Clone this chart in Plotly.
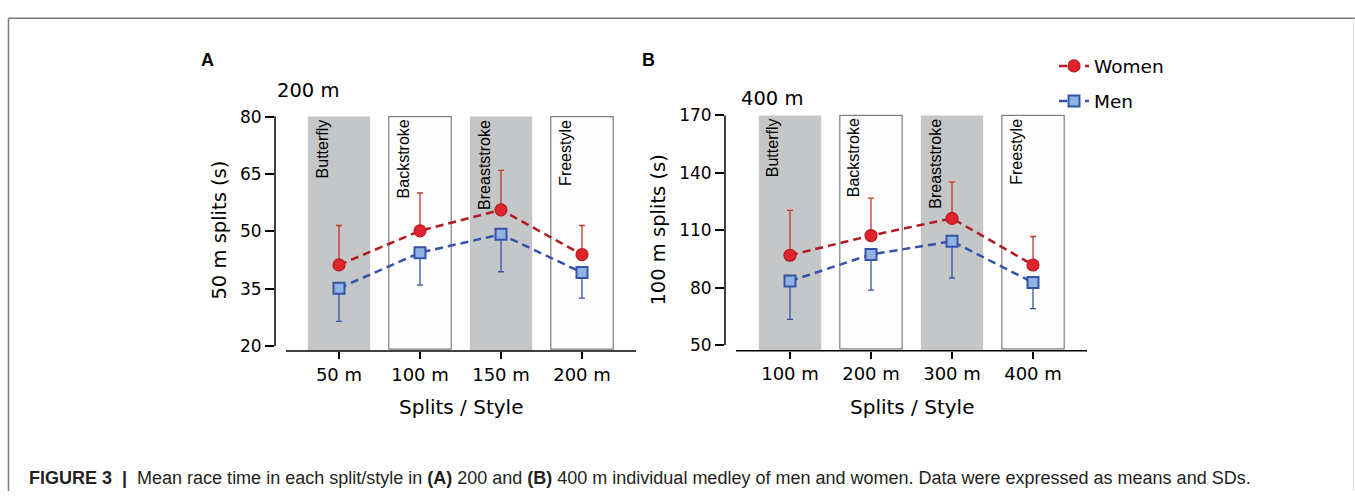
import plotly.graph_objects as go

W, H = 1355, 496

# ---------------- data ----------------
splits_a = ["50 m", "100 m", "150 m", "200 m"]
splits_b = ["100 m", "200 m", "300 m", "400 m"]
styles = ["Butterfly", "Backstroke", "Breaststroke", "Freestyle"]

women_a = [41.2, 50.1, 55.6, 43.9]
women_a_sd = [10.3, 9.9, 10.3, 7.6]
men_a = [35.1, 44.4, 49.2, 39.2]
men_a_sd = [8.7, 8.5, 9.8, 6.7]

women_b = [96.9, 107.2, 116.2, 91.8]
women_b_sd = [23.4, 19.6, 19.1, 14.9]
men_b = [83.4, 97.3, 104.2, 82.6]
men_b_sd = [20.0, 18.6, 19.2, 13.6]

yticks_a = [20, 35, 50, 65, 80]
yticks_b = [50, 80, 110, 140, 170]

# ---------------- styling ----------------
RED_FILL, RED_LINE, RED_ERR = "#e3232b", "#b01c22", "#c0392b"
BLUE_FILL, BLUE_LINE = "#8fb4e3", "#3453a9"
GRAY_BOX = "#c5c6c8"
CHART_FONT = "DejaVu Sans"
ARIAL = "Liberation Sans"

panels = [
    dict(xa="x", ya="y", cats=splits_a, w=women_a, wsd=women_a_sd, m=men_a, msd=men_a_sd,
         yt=yticks_a, axis_x=275, cat0=339, step=81, right=636,
         top_val=80, top_px=110.7, bot_val=20, bot_px=346.7, base_px=352, legend=True),
    dict(xa="x2", ya="y2", cats=splits_b, w=women_b, wsd=women_b_sd, m=men_b, msd=men_b_sd,
         yt=yticks_b, axis_x=725, cat0=790, step=81, right=1087,
         top_val=170, top_px=109.5, bot_val=50, bot_px=345.7, base_px=351.7, legend=False),
]

fig = go.Figure()
shapes = []
annotations = []
layout_axes = {}
HALF = 0.385

for k, p in enumerate(panels):
    ppu = (p["bot_px"] - p["top_px"]) / (p["top_val"] - p["bot_val"])
    pad = 1.5
    y_lo = p["bot_val"] - (p["base_px"] - p["bot_px"]) / ppu
    y_hi = p["top_val"] + pad / ppu
    x_lo = (p["axis_x"] - p["cat0"]) / p["step"]
    x_hi = (p["right"] - p["cat0"]) / p["step"]
    xkey = "xaxis" if k == 0 else "xaxis2"
    ykey = "yaxis" if k == 0 else "yaxis2"
    layout_axes[xkey] = dict(
        domain=[p["axis_x"] / W, p["right"] / W], anchor=p["ya"], type="category",
        range=[x_lo, x_hi], showgrid=False, zeroline=False, showline=False,
        ticks="outside", ticklen=7, tickwidth=1.5, tickcolor="black",
        tickfont=dict(family=CHART_FONT, size=18, color="black"),
    )
    layout_axes[ykey] = dict(
        domain=[1 - p["base_px"] / H, 1 - (p["top_px"] - pad) / H], anchor=p["xa"],
        range=[y_lo, y_hi], showgrid=False, zeroline=False, showline=False,
        tickvals=p["yt"], ticks="outside", ticklen=9, tickwidth=1.5, tickcolor="black",
        tickfont=dict(family=CHART_FONT, size=17, color="black"),
    )

    # style boxes
    for i, s in enumerate(styles):
        gray = i % 2 == 0
        if gray:
            shapes.append(dict(type="rect", xref=p["xa"], yref=p["ya"], x0=i - HALF, x1=i + HALF,
                               y0=y_lo, y1=p["top_val"], fillcolor=GRAY_BOX,
                               line=dict(width=0), layer="below"))
        else:
            shapes.append(dict(type="rect", xref=p["xa"], yref=p["ya"], x0=i - HALF, x1=i + HALF,
                               y0=y_lo + 2 / ppu, y1=p["top_val"], fillcolor="#fdfdfd",
                               line=dict(width=1.2, color="#7f7f7f"), layer="below"))
        annotations.append(dict(xref=p["xa"], yref=p["ya"], x=i - HALF, y=p["top_val"],
                                text=s, showarrow=False, textangle=-90,
                                xanchor="left", yanchor="top", xshift=4, yshift=-1,
                                font=dict(family=ARIAL, size=16, color="black")))

    # y axis line (from lowest to highest tick) and x baseline
    shapes.append(dict(type="line", xref=p["xa"] + " domain", yref=p["ya"], x0=0, x1=0,
                       y0=p["bot_val"], y1=p["top_val"], line=dict(color="black", width=1.5)))
    shapes.append(dict(type="line", xref=p["xa"], yref=p["ya"] + " domain",
                       x0=(p["axis_x"] + 11 - p["cat0"]) / p["step"], x1=x_hi, y0=0, y1=0,
                       line=dict(color="black", width=1.5)))

    fig.add_trace(go.Scatter(
        x=p["cats"], y=p["w"], xaxis=p["xa"], yaxis=p["ya"], name="Women",
        legendgroup="women", showlegend=p["legend"], mode="lines+markers",
        line=dict(color=RED_LINE, width=2.5, dash="8px,5px"),
        marker=dict(symbol="circle", size=12, color=RED_FILL, line=dict(color=RED_LINE, width=1.2)),
        error_y=dict(type="data", symmetric=False, array=p["wsd"], arrayminus=[0] * 4,
                     color=RED_ERR, thickness=1.3, width=3),
    ))
    fig.add_trace(go.Scatter(
        x=p["cats"], y=p["m"], xaxis=p["xa"], yaxis=p["ya"], name="Men",
        legendgroup="men", showlegend=p["legend"], mode="lines+markers",
        line=dict(color=BLUE_LINE, width=2.5, dash="8px,5px"),
        marker=dict(symbol="square", size=11, color=BLUE_FILL, line=dict(color=BLUE_LINE, width=2)),
        error_y=dict(type="data", symmetric=False, array=[0] * 4, arrayminus=p["msd"],
                     color=BLUE_LINE, thickness=1.3, width=3),
    ))


def ann(px, py, text, size, family=CHART_FONT, angle=0, xanchor="center", yanchor="middle"):
    annotations.append(dict(xref="paper", yref="paper", x=px / W, y=1 - py / H, text=text,
                            showarrow=False, textangle=angle, xanchor=xanchor, yanchor=yanchor,
                            font=dict(family=family, size=size, color="black")))


ann(207, 52, "<b>A</b>", 18, ARIAL)
ann(648, 52, "<b>B</b>", 18, ARIAL)
ann(308, 84, "200 m", 19.5)
ann(772, 92, "400 m", 19.5)
ann(220, 228, "50 m splits (s)", 19.5, angle=-90)
ann(659, 228, "100 m splits (s)", 19.5, angle=-90)
ann(461, 410, "Splits / Style", 20)
ann(912, 410, "Splits / Style", 20)
annotations.append(dict(
    xref="paper", yref="paper", x=27 / W, y=1 - 483 / H, xanchor="left", yanchor="middle",
    showarrow=False,
    text="<b>FIGURE 3</b>\u00a0\u00a0<b>|</b>\u00a0\u00a0Mean race time in each split/style in <b>(A)</b> 200 and "
         "<b>(B)</b> 400 m individual medley of men and women. Data were expressed as means and SDs.",
    font=dict(family=ARIAL, size=18, color="#231f20")))

# frame lines of the figure page
shapes.append(dict(type="line", xref="paper", yref="paper", x0=8.5 / W, x1=1, y0=1 - 9.5 / H,
                   y1=1 - 9.5 / H, line=dict(color="#7a7a7a", width=1.5)))
shapes.append(dict(type="line", xref="paper", yref="paper", x0=8.5 / W, x1=8.5 / W, y0=0,
                   y1=1 - 9.5 / H, line=dict(color="#7a7a7a", width=1.5)))
shapes.append(dict(type="line", xref="paper", yref="paper", x0=1353.5 / W, x1=1353.5 / W, y0=0,
                   y1=1 - 10 / H, line=dict(color="#e2e2e2", width=1.5)))

fig.update_layout(
    width=W, height=H, margin=dict(l=0, r=0, t=0, b=0),
    paper_bgcolor="white", plot_bgcolor="rgba(0,0,0,0)",
    shapes=shapes, annotations=annotations,
    showlegend=True,
    legend=dict(x=1054 / W, y=1 - 39.5 / H, xanchor="left", yanchor="top",
                bgcolor="rgba(0,0,0,0)", traceorder="grouped", tracegroupgap=8,
                font=dict(family=CHART_FONT, size=18.5, color="black")),
    **layout_axes,
)

fig.write_html("out.html", config={"displayModeBar": False},
               post_script="document.body.style.margin='0';")
